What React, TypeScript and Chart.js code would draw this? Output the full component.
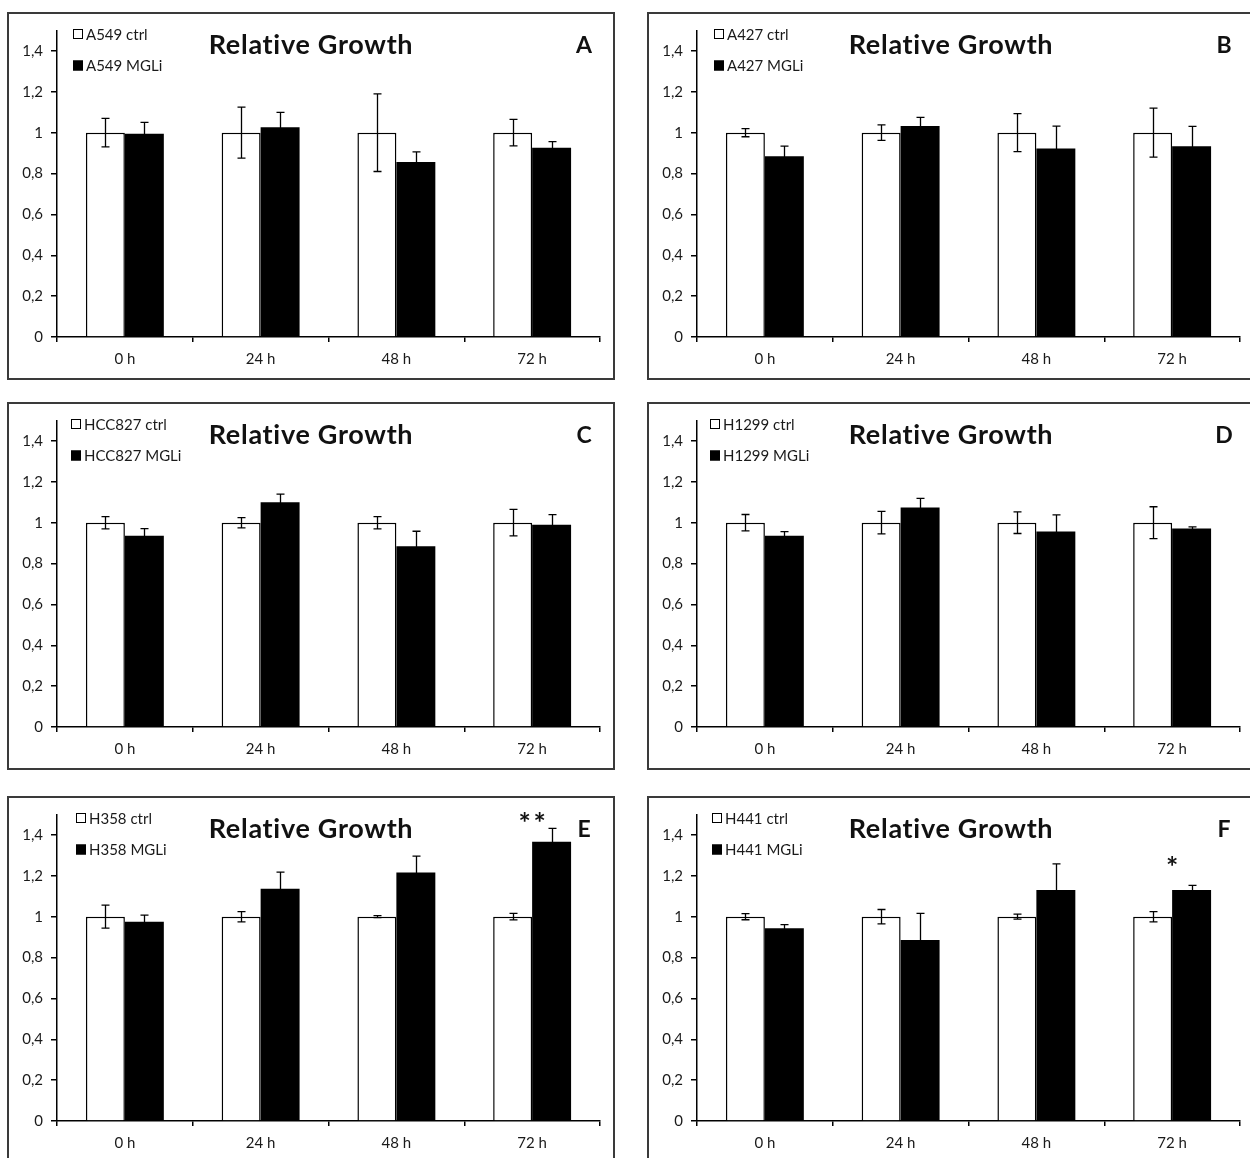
import React, { useEffect, useRef } from 'react';
import { Chart, registerables } from 'chart.js';

Chart.register(...registerables);

// ---- data ----
const timepoints = ['0 h', '24 h', '48 h', '72 h'];

const a549Ctrl = [1, 1, 1, 1];
const a549CtrlErr = [0.07, 0.125, 0.19, 0.065];
const a549Mgli = [0.995, 1.027, 0.856, 0.926];
const a549MgliErr = [0.055, 0.072, 0.05, 0.03];

const a427Ctrl = [1, 1, 1, 1];
const a427CtrlErr = [0.02, 0.038, 0.093, 0.12];
const a427Mgli = [0.884, 1.033, 0.922, 0.933];
const a427MgliErr = [0.05, 0.042, 0.11, 0.098];

const hcc827Ctrl = [1, 1, 1, 1];
const hcc827CtrlErr = [0.03, 0.025, 0.03, 0.065];
const hcc827Mgli = [0.936, 1.1, 0.884, 0.99];
const hcc827MgliErr = [0.035, 0.04, 0.074, 0.049];

const h1299Ctrl = [1, 1, 1, 1];
const h1299CtrlErr = [0.04, 0.055, 0.053, 0.078];
const h1299Mgli = [0.936, 1.074, 0.957, 0.972];
const h1299MgliErr = [0.02, 0.045, 0.081, 0.007];

const h358Ctrl = [1, 1, 1, 1];
const h358CtrlErr = [0.056, 0.025, 0.005, 0.016];
const h358Mgli = [0.975, 1.137, 1.216, 1.367];
const h358MgliErr = [0.033, 0.081, 0.08, 0.065];

const h441Ctrl = [1, 1, 1, 1];
const h441CtrlErr = [0.015, 0.035, 0.012, 0.025];
const h441Mgli = [0.943, 0.886, 1.13, 1.13];
const h441MgliErr = [0.018, 0.13, 0.128, 0.023];

const h358Significance = ['', '', '', '**'];
const h441Significance = ['', '', '', '*'];

// ---- layout ----
const W = 608;
const H = 368;
const PLOT_LEFT = 50;
const PLOT_RIGHT = 593;
const PLOT_TOP = 18.5;
const PLOT_BOTTOM = 325;
const FONT = 'Lato, "Open Sans", sans-serif';
const TEXT = '#1a1a1a';

type Panel = {
  letter: string;
  line: string;
  ctrl: number[];
  ctrlErr: number[];
  mgli: number[];
  mgliErr: number[];
  sig?: string[];
  sigAt?: number;
  left: number;
  top: number;
  legendX: number;
};

const panels: Panel[] = [
  { letter: 'A', line: 'A549', ctrl: a549Ctrl, ctrlErr: a549CtrlErr, mgli: a549Mgli, mgliErr: a549MgliErr, left: 7, top: 12, legendX: 66 },
  { letter: 'B', line: 'A427', ctrl: a427Ctrl, ctrlErr: a427CtrlErr, mgli: a427Mgli, mgliErr: a427MgliErr, left: 647, top: 12, legendX: 67 },
  { letter: 'C', line: 'HCC827', ctrl: hcc827Ctrl, ctrlErr: hcc827CtrlErr, mgli: hcc827Mgli, mgliErr: hcc827MgliErr, left: 7, top: 402, legendX: 64 },
  { letter: 'D', line: 'H1299', ctrl: h1299Ctrl, ctrlErr: h1299CtrlErr, mgli: h1299Mgli, mgliErr: h1299MgliErr, left: 647, top: 402, legendX: 63 },
  { letter: 'E', line: 'H358', ctrl: h358Ctrl, ctrlErr: h358CtrlErr, mgli: h358Mgli, mgliErr: h358MgliErr, sig: h358Significance, sigAt: 1.487, left: 7, top: 796, legendX: 69 },
  { letter: 'F', line: 'H441', ctrl: h441Ctrl, ctrlErr: h441CtrlErr, mgli: h441Mgli, mgliErr: h441MgliErr, sig: h441Significance, sigAt: 1.274, left: 647, top: 796, legendX: 65 },
];

const fmtTick = (v: number) => {
  const r = Math.round(v * 10) / 10;
  return Number.isInteger(r) ? String(r) : r.toFixed(1).replace('.', ',');
};

function makeDecor(p: Panel) {
  return {
    id: 'panelDecor',
    afterDatasetsDraw(chart: any) {
      const ctx: CanvasRenderingContext2D = chart.ctx;
      const y = chart.scales.y;
      const sets: [number[], number[]][] = [
        [p.ctrl, p.ctrlErr],
        [p.mgli, p.mgliErr],
      ];
      ctx.save();
      ctx.strokeStyle = '#000';
      ctx.lineWidth = 1.3;
      sets.forEach(([vals, errs], di) => {
        const meta = chart.getDatasetMeta(di);
        meta.data.forEach((bar: any, i: number) => {
          const x = Math.round(bar.x) + 0.5;
          const t = y.getPixelForValue(vals[i] + errs[i]);
          const b = y.getPixelForValue(vals[i] - errs[i]);
          ctx.beginPath();
          ctx.moveTo(x, t);
          ctx.lineTo(x, b);
          ctx.moveTo(x - 4, t);
          ctx.lineTo(x + 4, t);
          ctx.moveTo(x - 4, b);
          ctx.lineTo(x + 4, b);
          ctx.stroke();
        });
      });
      ctx.restore();
    },
    afterDraw(chart: any) {
      const ctx: any = chart.ctx;
      ctx.save();
      ctx.fillStyle = '#111';
      ctx.textBaseline = 'alphabetic';
      ctx.textAlign = 'center';
      ctx.font = `bold 27px ${FONT}`;
      ctx.letterSpacing = '0.7px';
      ctx.fillText('Relative Growth', W / 2, 42);
      ctx.letterSpacing = '0px';
      ctx.font = `bold 23px ${FONT}`;
      ctx.fillText(p.letter, 577, 40.5);

      // legend
      ctx.textAlign = 'left';
      ctx.font = `15px ${FONT}`;
      ctx.fillStyle = TEXT;
      const rows: [string, string][] = [
        [`${p.line} ctrl`, '#fff'],
        [`${p.line} MGLi`, '#000'],
      ];
      rows.forEach(([label, fill], i) => {
        const top = 17 + i * 31.5;
        ctx.fillStyle = fill;
        ctx.fillRect(p.legendX, top, 10, 10);
        ctx.strokeStyle = '#000';
        ctx.lineWidth = 1;
        ctx.strokeRect(p.legendX + 0.5, top + 0.5, 9, 9);
        ctx.fillStyle = TEXT;
        ctx.fillText(label, p.legendX + 13, top + 10.5);
      });

      // significance marks
      if (p.sig && p.sigAt !== undefined) {
        const xs = chart.scales.x;
        const cy = chart.scales.y.getPixelForValue(p.sigAt);
        ctx.font = `bold 29px ${FONT}`;
        ctx.textAlign = 'center';
        ctx.fillStyle = '#111';
        const m = ctx.measureText('*');
        const base = cy + (m.actualBoundingBoxAscent - m.actualBoundingBoxDescent) / 2;
        p.sig.forEach((s, i) => {
          if (!s) return;
          const cx = xs.getPixelForValue(i);
          const n = s.length;
          for (let k = 0; k < n; k++) {
            ctx.fillText('*', cx + (k - (n - 1) / 2) * 15, base);
          }
        });
      }
      ctx.restore();
    },
  };
}

function PanelChart({ p }: { p: Panel }) {
  const ref = useRef<HTMLCanvasElement>(null);
  useEffect(() => {
    const chart = new Chart(ref.current!, {
      type: 'bar',
      data: {
        labels: timepoints,
        datasets: [
          { label: `${p.line} ctrl`, data: p.ctrl, backgroundColor: '#fff', borderColor: '#000', borderWidth: 1.5, borderSkipped: 'start' },
          { label: `${p.line} MGLi`, data: p.mgli, backgroundColor: '#000', borderColor: '#000', borderWidth: 0 },
        ],
      },
      options: {
        animation: false,
        responsive: false,
        maintainAspectRatio: false,
        datasets: { bar: { categoryPercentage: 0.574, barPercentage: 1 } },
        layout: { padding: { top: PLOT_TOP, right: W - PLOT_RIGHT, left: 0, bottom: 0 } },
        plugins: { legend: { display: false }, tooltip: { enabled: false }, title: { display: false } },
        scales: {
          x: {
            offset: true,
            grid: { offset: true, drawOnChartArea: false, drawTicks: true, tickLength: 5, color: '#000', lineWidth: 1.5 },
            border: { display: true, color: '#000', width: 1.5 },
            ticks: { color: TEXT, font: { family: FONT, size: 15 }, padding: 8, maxRotation: 0 },
            afterFit: (s: any) => { s.height = H - PLOT_BOTTOM; },
          },
          y: {
            min: 0,
            max: 1.5,
            grid: { drawOnChartArea: false, drawTicks: true, tickLength: 6, color: '#000', lineWidth: 1.5 },
            border: { display: true, color: '#000', width: 1.5 },
            ticks: { stepSize: 0.2, color: TEXT, font: { family: FONT, size: 15 }, padding: 8, callback: (v: any) => fmtTick(Number(v)) },
            afterBuildTicks: (s: any) => { s.ticks = s.ticks.filter((t: any) => t.value < 1.45); },
            afterFit: (s: any) => { s.width = PLOT_LEFT; },
          },
        },
      },
      plugins: [makeDecor(p)],
    } as any);
    return () => chart.destroy();
  }, [p]);
  return (
    <div style={{ position: 'absolute', left: p.left, top: p.top, width: W, height: H }}>
      <canvas ref={ref} width={W} height={H} style={{ display: 'block' }} />
      <div style={{ position: 'absolute', inset: 0, border: '2px solid #3a3a3a', boxSizing: 'border-box', pointerEvents: 'none' }} />
    </div>
  );
}

export default function App() {
  return (
    <div style={{ position: 'absolute', left: 0, top: 0, width: 1250, height: 1158, overflow: 'hidden', background: '#fff' }}>
      {panels.map((p) => (
        <PanelChart key={p.letter} p={p} />
      ))}
    </div>
  );
}
